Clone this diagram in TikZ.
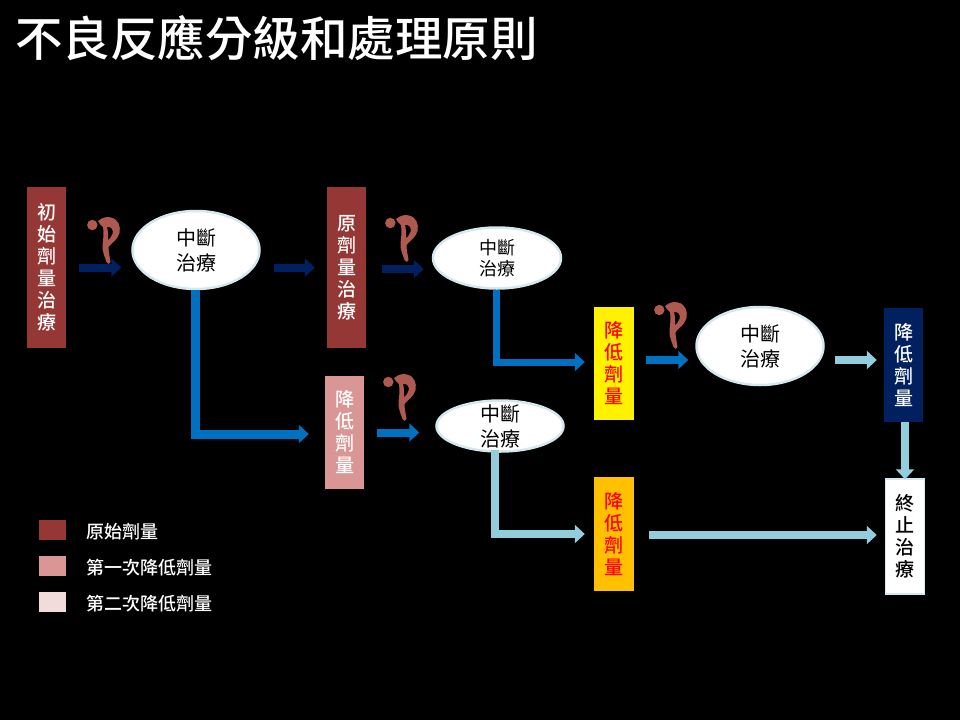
\documentclass[tikz,border=0pt]{standalone}
\usepackage{fontspec}
\setmainfont{Noto Sans CJK TC}
\newfontfamily\medfont{Noto Sans CJK TC Medium}
\newfontfamily\titlefont{Noto Sans CJK TC Medium}
\usetikzlibrary{shapes.geometric,arrows.meta}
\definecolor{boxred}{HTML}{953735}
\definecolor{boxpink}{HTML}{D99694}
\definecolor{boxpale}{HTML}{F2DCDB}
\definecolor{navy}{HTML}{002060}
\definecolor{midblue}{HTML}{0070C0}
\definecolor{lightblue}{HTML}{92CDDC}
\definecolor{rimblue}{HTML}{D5E8EE}
\definecolor{figure}{HTML}{AE5A50}
\tikzset{
  x=1pt,y=-1pt,
  vbox/.style={rectangle,minimum width=39pt,inner sep=0pt,text=white,align=center,font=\fontsize{19}{22}\selectfont\medfont},
  stopshape/.style={ellipse,draw=rimblue,line width=2.5pt,fill=white,inner sep=0pt},
  stoptext/.style={inner sep=0pt,text=black,align=center},
  flow/.style={line width=8pt,-{Triangle[length=10pt,width=18pt]}},
  swatch/.style={rectangle,minimum width=27pt,minimum height=20pt,inner sep=0pt},
  legendtext/.style={anchor=west,inner sep=0pt,text=white,font=\fontsize{18}{20}\selectfont\medfont},
  pics/bentfigure/.style={code={
    \fill[figure] (17.3,15) circle (5.2);
    \fill[figure,even odd rule]
      (23,11) .. controls (28,7) and (32,6.5) .. (36,7.5)
      .. controls (43,9) and (46,16) .. (44.5,23)
      .. controls (43,29) and (37,33) .. (33.5,37)
      .. controls (33.5,42) and (35,48) .. (35.5,52)
      .. controls (35.5,54.5) and (32,54.5) .. (31.5,52)
      .. controls (30,47) and (27,42) .. (27.5,35)
      .. controls (28,30) and (29,26) .. (28,17)
      .. controls (26,15) and (24,14) .. (23,11) -- cycle
      (32,17) .. controls (36,16) and (39,20) .. (37.5,24)
      .. controls (37,27) and (34,29) .. (33,30.5)
      .. controls (33.5,26) and (33,21) .. (32,17) -- cycle;
  }}
}
\begin{document}
\begin{tikzpicture}
\useasboundingbox[fill=black] (0,0) rectangle (960,720);
\node[anchor=west,inner sep=0pt,text=white,font=\fontsize{47.5}{50}\selectfont\titlefont] (title) at (15,38) {不良反應分級和處理原則};

% boxes
\node[vbox,fill=boxred,minimum height=161pt] (b1) at (46.5,267.5) {初\\始\\劑\\量\\治\\療};
\node[vbox,fill=boxred,minimum height=161pt] (b2) at (346.5,267.5) {原\\劑\\量\\治\\療};
\node[vbox,fill=boxpink,minimum height=113pt] (b3) at (344.5,432.5) {降\\低\\劑\\量};
\node[vbox,fill=yellow,text=red,minimum width=40pt,minimum height=113pt] (b4) at (614,363.5) {降\\低\\劑\\量};
\node[vbox,fill={rgb,255:red,255;green,192;blue,0},text=red,minimum width=40pt,minimum height=114pt] (b5) at (614,534) {降\\低\\劑\\量};
\node[vbox,fill=navy,minimum height=114pt] (b6) at (903.5,365) {降\\低\\劑\\量};
\node[vbox,fill=white,draw=rimblue,line width=1.5pt,text=black,minimum width=39pt,minimum height=115pt] (b7) at (905,536.5) {終\\止\\治\\療};

% ellipses
\node[stopshape,minimum width=127pt,minimum height=78pt] (e1) at (196,250) {};
\node[stopshape,minimum width=128pt,minimum height=61pt] (e2) at (497,258) {};
\node[stopshape,minimum width=127pt,minimum height=78pt] (e3) at (760,346) {};
\node[stopshape,minimum width=127pt,minimum height=51pt] (e4) at (500,426) {};
\node[stoptext,font=\fontsize{20}{25}\selectfont] (e1t) at (e1) {中斷\\治療};
\node[stoptext,font=\fontsize{18}{21}\selectfont] (e2t) at (e2) {中斷\\治療};
\node[stoptext,font=\fontsize{20}{25}\selectfont] (e3t) at (e3) {中斷\\治療};
\node[stoptext,font=\fontsize{20}{25}\selectfont] (e4t) at (e4) {中斷\\治療};

% connectors
\draw[flow,navy,shorten <=13pt,shorten >=10pt] (b1.east) -- (b1.east -| e1.west);
\draw[flow,navy,shorten <=13pt,shorten >=12pt] (e1.east |- b2.west) -- (b2.west);
\draw[flow,navy,shorten <=16pt,shorten >=8pt] ([yshift=-1.5pt]b2.east) -- ([yshift=-1.5pt]b2.east -| e2.west);
\draw[flow,midblue,shorten <=13pt,shorten >=16pt] (b3.east) -- (b3.east -| e4.west);
\draw[flow,midblue,shorten <=12pt,shorten >=7pt] ([yshift=3.5pt]b4.east) -- ([yshift=3.5pt]b4.east -| e3.west);
\draw[flow,lightblue,shorten <=10pt,shorten >=7pt] ([yshift=-14pt]e3.east) -- ([yshift=-14pt]e3.east -| b6.west);
\draw[flow,lightblue,shorten >=-1pt] ([xshift=1.5pt]b6.south) -- (b7.north);
\draw[flow,lightblue,shorten <=15pt,shorten >=8pt] ([yshift=-1pt]b5.east) -- ([yshift=-1pt]b5.east -| b7.west);
\draw[flow,midblue,line width=9pt,shorten >=16pt] ([xshift=-1pt]e1.south) |- ([yshift=-1.5pt]b3.west);
\draw[flow,midblue,line width=7pt,shorten >=9pt] ([xshift=-1pt]e2.south) |- ([yshift=1.5pt]b4.west);
\draw[flow,lightblue,shorten <=-3pt,shorten >=9pt] ([xshift=-5pt]e4.south) |- (b5.west);

% figures
\pic at (75,210) {bentfigure};
\pic at (373,208) {bentfigure};
\pic at (371,367) {bentfigure};
\pic at (642,295) {bentfigure};

% legend
\node[swatch,fill=boxred] (s1) at (52.5,530) {};
\node[swatch,fill=boxpink] (s2) at (52.5,566) {};
\node[swatch,fill=boxpale] (s3) at (52.5,602) {};
\node[legendtext] (t1) at (86,532) {原始劑量};
\node[legendtext] (t2) at (86,568) {第一次降低劑量};
\node[legendtext] (t3) at (86,604) {第二次降低劑量};
\end{tikzpicture}
\end{document}
